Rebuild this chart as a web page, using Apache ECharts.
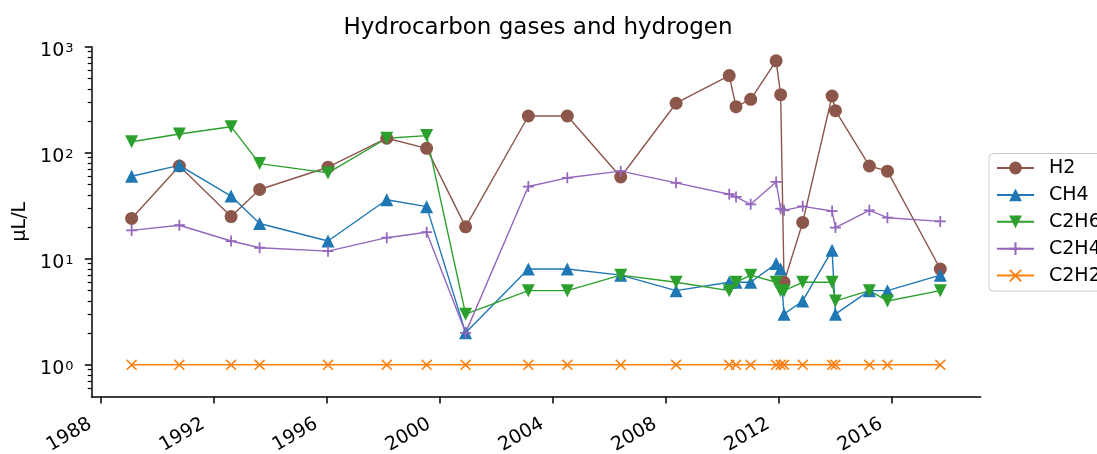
<!DOCTYPE html>
<html><head><meta charset="utf-8">
<script src="https://cdn.jsdelivr.net/npm/echarts@6/dist/echarts.min.js"></script>
<style>html,body{margin:0;padding:0;background:#fff}#c{width:1097px;height:454px}</style>
</head><body><div id="c"></div>
<script>
// Sample dates as decimal years
const years = [1989.10, 1990.79, 1992.62, 1993.63, 1996.05, 1998.13, 1999.54, 2000.92,
  2003.14, 2004.52, 2006.41, 2008.37, 2010.25, 2010.49, 2011.01, 2011.91, 2012.07, 2012.19,
  2012.85, 2013.89, 2014.01, 2015.21, 2015.85, 2017.72];
const h2   = [24, 75, 25, 45, 73, 137, 110, 20, 222, 222, 59, 293, 534, 272, 319, 736, 353, 6, 22, 343, 249, 75, 67, 8];
const ch4  = [60, 76, 39, 21.5, 14.7, 36, 31, 2, 8, 8, 7, 5, 6, 6, 6, 9, 8, 3, 4, 12, 3, 5, 5, 7];
const c2h6 = [127, 150, 176, 79, 64.5, 137, 145, 3, 5, 5, 7, 6, 5, 6, 7, 6, 5, 5, 6, 6, 4, 5, 4, 5];
const c2h4 = [18.5, 20.7, 14.7, 12.7, 11.8, 15.8, 17.8, 2, 48, 58, 67, 52, 40.6, 38.3, 32.6, 53, 29.7, 28.6, 31.2, 28.2, 19.7, 28.6, 24.4, 22.5];
const c2h2 = [1, 1, 1, 1, 1, 1, 1, 1, 1, 1, 1, 1, 1, 1, 1, 1, 1, 1, 1, 1, 1, 1, 1, 1];
const seriesNames = ['H2', 'CH4', 'C2H6', 'C2H4', 'C2H2'];
const xTicks = [1988, 1992, 1996, 2000, 2004, 2008, 2012, 2016];
const yMajor = [1, 10, 100, 1000];
const yMinor = [0.6, 0.7, 0.8, 0.9, 2, 3, 4, 5, 6, 7, 8, 9, 20, 30, 40, 50, 60, 70, 80, 90, 200, 300, 400, 500, 600, 700, 800, 900];

const FONT = 'DejaVu Sans';
const PLUS = 'path://M42,0H58V42H100V58H58V100H42V58H0V42H42Z';
const CROSS = 'path://M0,10L10,0L50,40L90,0L100,10L60,50L100,90L90,100L50,60L10,100L0,90L40,50Z';
const styles = [
  {color: '#8c564b', symbol: 'circle', size: 13, rot: 0},
  {color: '#1f77b4', symbol: 'triangle', size: 13, rot: 0},
  {color: '#2ca02c', symbol: 'triangle', size: 13, rot: 180},
  {color: '#9467bd', symbol: PLUS, size: 11, rot: 0},
  {color: '#ff7f0e', symbol: CROSS, size: 11, rot: 0}
];
const values = [h2, ch4, c2h6, c2h4, c2h2];

const series = seriesNames.map((name, i) => ({
  name: name,
  type: 'line',
  xAxisIndex: 0,
  yAxisIndex: 0,
  data: years.map((y, j) => [y, values[i][j]]),
  symbol: styles[i].symbol,
  symbolSize: styles[i].size,
  symbolRotate: styles[i].rot,
  showAllSymbol: true,
  lineStyle: {color: styles[i].color, width: 1.4},
  itemStyle: {color: styles[i].color, borderWidth: 0},
  emphasis: {disabled: true},
  animation: false
}));

const chart = echarts.init(document.getElementById('c'), null, {renderer: 'canvas'});
chart.setOption({
  animation: false,
  backgroundColor: '#fff',
  title: {
    text: 'Hydrocarbon gases and hydrogen',
    left: 533, top: 11.5, textAlign: 'center',
    textStyle: {fontFamily: FONT, fontSize: 23, fontWeight: 'normal', color: '#000'}
  },
  grid: {left: 91.5, right: 116.3, top: 46.7, bottom: 57.3, containLabel: false, outerBoundsMode: 'none'},
  legend: {
    orient: 'vertical',
    left: 989, top: 153.5,
    padding: [5, 8, 6, 7],
    itemWidth: 37, itemHeight: 16, itemGap: 7.9,
    borderColor: '#cccccc', borderWidth: 1, borderRadius: 4,
    backgroundColor: 'rgba(255,255,255,0.8)',
    textStyle: {fontFamily: FONT, fontSize: 19, color: '#000', padding: [0, 0, 0, 10]},
    data: seriesNames
  },
  xAxis: {
    type: 'value',
    min: 1987.68, max: 2019.15,
    splitLine: {show: false},
    axisLine: {lineStyle: {color: '#000', width: 1.5}},
    axisTick: {customValues: xTicks, length: 6.7, lineStyle: {color: '#000', width: 1.5}},
    axisLabel: {
      customValues: xTicks, rotate: 30, margin: 20,
      padding: [0, 12, 0, 0],
      formatter: v => String(v),
      fontFamily: FONT, fontSize: 19, color: '#000'
    }
  },
  yAxis: [{
    type: 'log', logBase: 10, min: 0.5, max: 1000,
    name: 'µL/L', nameLocation: 'middle', nameGap: 62, nameRotate: 90,
    nameTextStyle: {fontFamily: FONT, fontSize: 19, color: '#000'},
    splitLine: {show: false},
    axisLine: {show: true, lineStyle: {color: '#000', width: 1.5}},
    axisTick: {customValues: yMajor, length: 6.7, lineStyle: {color: '#000', width: 1.5}},
    axisLabel: {
      customValues: yMajor, margin: 18,
      padding: [9, 0, 0, 0],
      formatter: v => '{b|10}{s|' + Math.round(Math.log10(v)) + '}',
      rich: {
        b: {fontFamily: FONT, fontSize: 19, color: '#000'},
        s: {fontFamily: FONT, fontSize: 13, color: '#000', verticalAlign: 'top', padding: [0, 0, 0, 1]}
      }
    }
  }, {
    type: 'log', logBase: 10, min: 0.5, max: 1000,
    position: 'left',
    splitLine: {show: false},
    axisLine: {show: false},
    axisTick: {customValues: yMinor, length: 3.8, lineStyle: {color: '#000', width: 1.2}},
    axisLabel: {show: false}
  }],
  series: series
});
</script>
</body></html>
